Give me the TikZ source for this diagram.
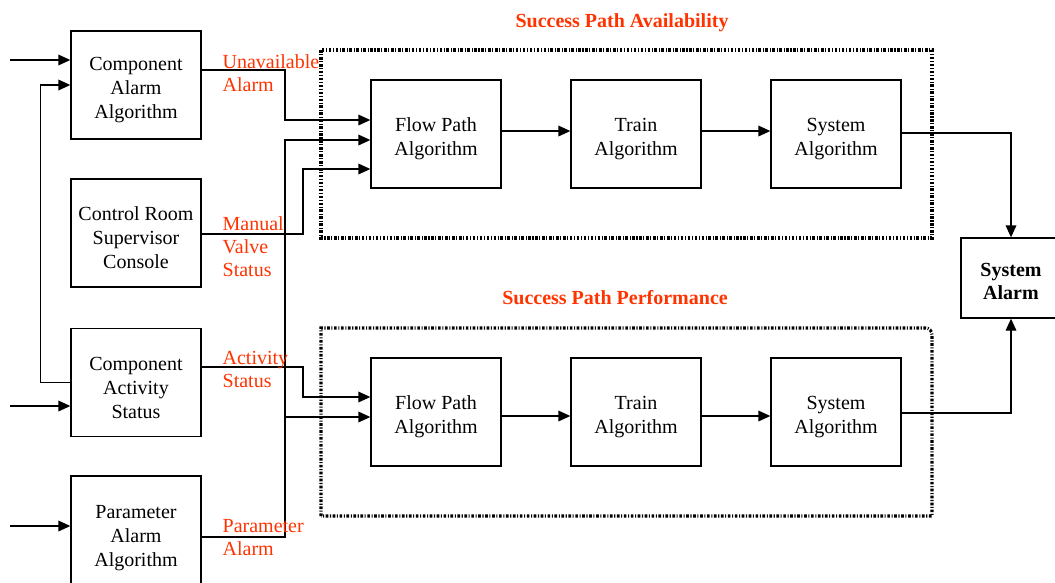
\documentclass[tikz,border=0pt]{standalone}
\usepackage{fontspec}
\setmainfont{Liberation Serif}
\usetikzlibrary{arrows.meta, positioning, calc}
\definecolor{pathred}{RGB}{255,51,0}
% extra room above the first line, pushes the block text down a bit
\newcommand{\topgap}[1][18pt]{\rule{0pt}{#1}}

\begin{document}
\begin{tikzpicture}[x=0.75pt, y=-0.75pt, line width=1pt,
    font=\fontsize{15}{18}\selectfont,
    >={Triangle[length=9pt, width=8pt]},
    block/.style={rectangle, draw, align=center, minimum width=97.5pt, minimum height=81pt, inner sep=2pt},
    sig/.style={text=pathred, align=left, anchor=west, inner sep=0pt, font=\fontsize{15}{17.25}\selectfont},
    frame/.style={line width=2.3pt, dash pattern=on 2pt off 1.2pt on 0.8pt off 1.2pt},
    title/.style={text=pathred, font=\fontsize{15}{18}\selectfont\bfseries}]
    \path[use as bounding box, clip] (0,0) rectangle (1055,582);

    % Source blocks
    \node[block] (caa) at (136, 85) {\topgap Component\\Alarm\\Algorithm};
    \node[block] (crsc) at (136, 233) {\topgap Control Room\\Supervisor\\Console};
    \node[block] (cas) at (136, 382.5) {\topgap Component\\Activity\\Status};
    \node[block, minimum height=85.5pt] (paa) at (136, 533) {\topgap Parameter\\Alarm\\Algorithm};

    \coordinate (caain) at (10, 60);
    \coordinate (casin) at (10, 406);
    \coordinate (paain) at (10, 526);
    \draw[->] (caain) -- (caain -| caa.west);
    \draw[->] (casin) -- (casin -| cas.west);
    \draw[->] (paain) -- (paain -| paa.west);
    \draw[->] (cas.west) -- ++(-30, 0) |- (caa.west);

    % Success path availability
    \node[title] (availtitle) at (622, 23) {Success Path Availability};
    \draw[frame] (321, 50) rectangle (932, 238);
    \node[block] (fp1) at (436, 134) {\topgap Flow Path\\Algorithm};
    \node[block] (train1) at (636, 134) {\topgap Train\\Algorithm};
    \node[block] (sa1) at (836, 134) {\topgap System\\Algorithm};
    \draw[->] (fp1.east |- 0, 131) -- (train1.west |- 0, 131);
    \draw[->] (train1.east |- 0, 131) -- (sa1.west |- 0, 131);

    % Success path performance
    \node[title] (perftitle) at (615, 298) {Success Path Performance};
    \draw[frame] (321, 516) -- (321, 328) [rounded corners=5pt] -- (932, 328) [sharp corners] -- (932, 516) -- cycle;
    \node[block] (fp2) at (436, 412) {\topgap Flow Path\\Algorithm};
    \node[block] (train2) at (636, 412) {\topgap Train\\Algorithm};
    \node[block] (sa2) at (836, 412) {\topgap System\\Algorithm};
    \draw[->] (fp2.east |- 0, 416) -- (train2.west |- 0, 416);
    \draw[->] (train2.east |- 0, 416) -- (sa2.west |- 0, 416);

    % Signals into the flow path blocks
    \draw[->] (caa.east |- 0, 70) -| (285, 120) -- (fp1.west |- 0, 120);
    \draw[->] (paa.east |- 0, 537) -| (285, 140) -- (fp1.west |- 0, 140);
    \draw[->] (285, 417) -- (fp2.west |- 0, 417);
    \draw[->] (crsc.east |- 0, 234) -| (303, 169) -- (fp1.west |- 0, 169);
    \draw[->] (cas.east |- 0, 367) -| (303, 397) -- (fp2.west |- 0, 397);

    \node[sig] (lblunavail) at (222, 73.5) {Unavailable\\Alarm};
    \node[sig] (lblvalve) at (222, 247) {Manual\\Valve\\Status};
    \node[sig] (lblactivity) at (222, 369.5) {Activity\\Status};
    \node[sig] (lblparam) at (222, 537.5) {Parameter\\Alarm};

    % System alarm
    \node[block, font=\fontsize{15}{17}\selectfont\bfseries, minimum width=75pt, minimum height=60pt] (alarm) at (1011, 278) {\topgap[15pt]System\\Alarm};
    \draw[->] (sa1.east |- 0, 133) -| (alarm.north);
    \draw[->] (sa2.east |- 0, 413) -| (alarm.south);
\end{tikzpicture}
\end{document}
